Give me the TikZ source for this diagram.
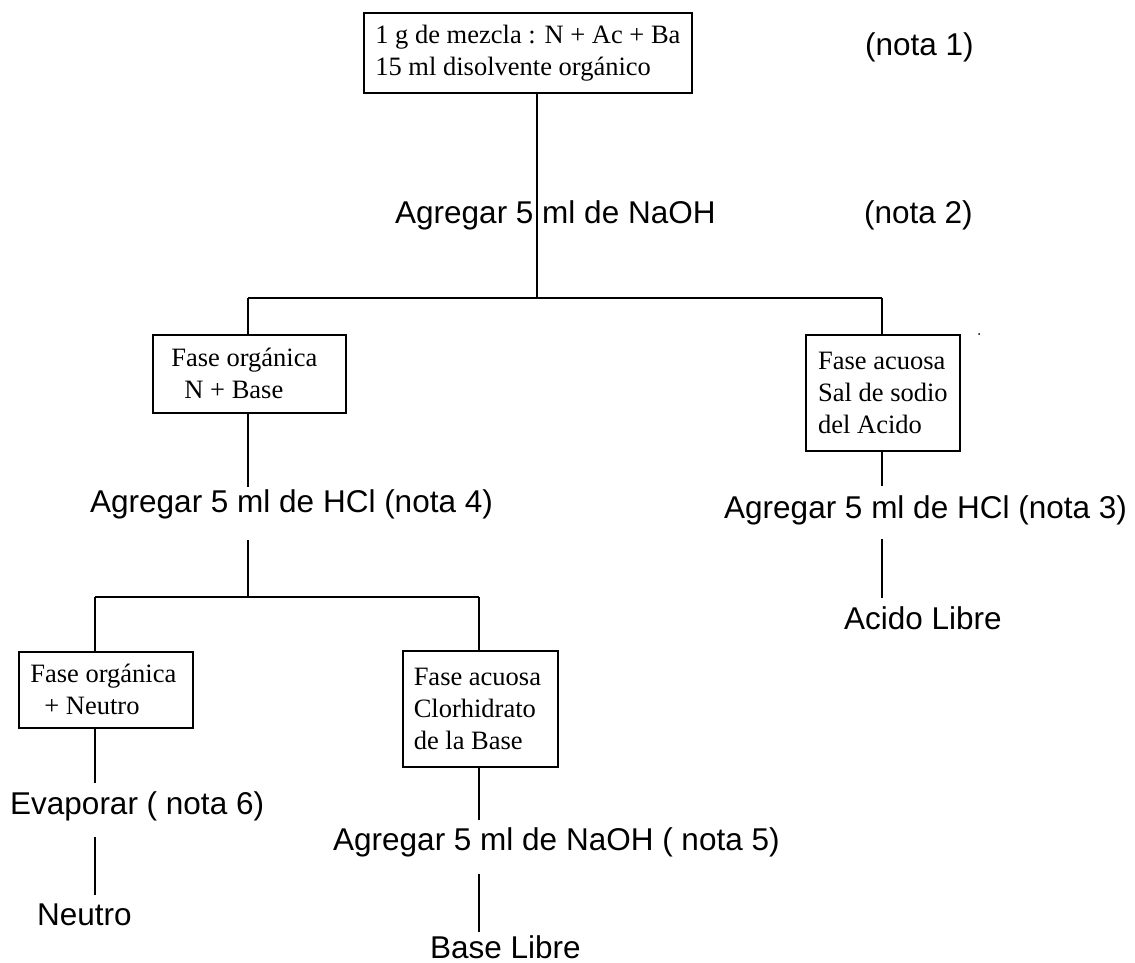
\documentclass[tikz,border=0pt]{standalone}
\usepackage{fontspec}
\setmainfont{Liberation Serif}
\setsansfont{Liberation Sans}
\begin{document}
\begin{tikzpicture}[x=1pt,y=-1pt,
  box/.style={draw, line width=1.8pt, inner xsep=0pt, inner ysep=0pt, align=left, anchor=north west, font=\fontsize{26.5}{32}\selectfont},
  lbl/.style={font=\sffamily\fontsize{31.5}{36}\selectfont, inner sep=0pt, anchor=base west},
  conn/.style={line width=1.7pt}]
\useasboundingbox (0,0) rectangle (1135,963);

% top
\node[box, minimum width=328pt, minimum height=80pt] (top) at (363,12) {1 g de mezcla : N + Ac + Ba\\15 ml disolvente orgánico};
\node[lbl] (nota1) at (865,56) {(nota 1)};
\node[lbl] (naoh1) at (395,223) {Agregar 5 ml de NaOH};
\node[lbl] (nota2) at (864,223) {(nota 2)};
\coordinate (j1) at (537,298);
\coordinate (jl) at (248,298);
\coordinate (jr) at (882,298);
\draw[conn] (top.south -| j1) -- (j1);
\draw[conn] (jl) -- (jr);

% left branch
\node[box, minimum width=193pt, minimum height=78pt] (fa) at (152,334) {Fase orgánica\hspace*{10pt}\\\hspace*{13pt}N + Base};
\draw[conn] (jl) -- (fa.north -| jl);
\coordinate (a1) at (248,487);
\draw[conn] (fa.south -| jl) -- (a1);
\node[lbl] (hcl4) at (90,512) {Agregar 5 ml de HCl (nota 4)};
\coordinate (a2) at (248,540);
\coordinate (j2) at (248,597);
\draw[conn] (a2) -- (j2);
\coordinate (j2l) at (95,597);
\coordinate (j2r) at (479,597);
\draw[conn] (j2l) -- (j2r);

\node[box, minimum width=174pt, minimum height=76pt] (fb) at (18,651) {Fase orgánica\hspace*{5pt}\\\hspace*{14pt}+ Neutro};
\draw[conn] (j2l) -- (fb.north -| j2l);
\coordinate (b1) at (95,783);
\draw[conn] (fb.south -| b1) -- (b1);
\node[lbl] (evap) at (10,814) {Evaporar ( nota 6)};
\coordinate (b2) at (95,837);
\coordinate (b3) at (95,895);
\draw[conn] (b2) -- (b3);
\node[lbl] (neutro) at (37,925) {Neutro};

\node[box, minimum width=155pt, minimum height=116pt] (fc) at (402,650) {Fase acuosa\hspace*{6pt}\\Clorhidrato\\de la Base};
\draw[conn] (j2r) -- (fc.north -| j2r);
\coordinate (c1) at (479,820);
\draw[conn] (fc.south -| c1) -- (c1);
\node[lbl] (naoh5) at (333,850) {Agregar 5 ml de NaOH ( nota 5)};
\coordinate (c2) at (479,874);
\coordinate (c3) at (479,932);
\draw[conn] (c2) -- (c3);
\node[lbl] (basel) at (430,958) {Base Libre};

% right branch
\node[box, minimum width=154pt, minimum height=116pt] (fd) at (805,334) {Fase acuosa\\Sal de sodio\hspace*{2pt}\\del Acido};
\draw[conn] (jr) -- (fd.north -| jr);
\coordinate (d1) at (882,486);
\draw[conn] (fd.south -| d1) -- (d1);
\node[lbl] (hcl3) at (724,518) {Agregar 5 ml de HCl (nota 3)};
\coordinate (d2) at (882,539);
\coordinate (d3) at (882,598);
\draw[conn] (d2) -- (d3);
\node[lbl] (acido) at (844,629) {Acido Libre};
\fill (979,334) circle (1pt);
\end{tikzpicture}
\end{document}
